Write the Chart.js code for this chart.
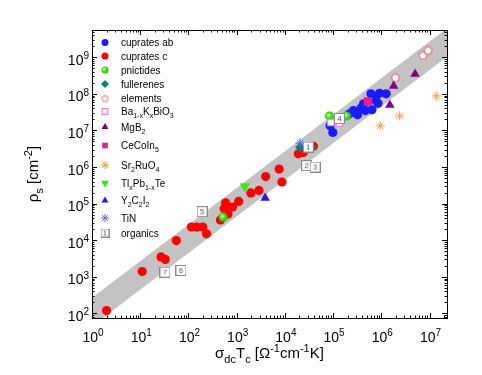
<!DOCTYPE html>
<html>
<head>
<meta charset="utf-8">
<script src="https://cdn.jsdelivr.net/npm/chart.js@4"></script>
<style>
    html, body { margin: 0; padding: 0; background: #fff; }
</style>
</head>
<body>
<canvas id="chart" width="482" height="375"></canvas>
<script>
// ========== DATA ==========
const xMin = 1, xMax = 2.3e7;
const yMin = 75, yMax = 5.56e9;

const cupratesAbX = [86600, 98600, 218000, 264000, 320000, 377000, 427000, 463000, 638000, 608000, 757000, 918000, 1260000, 850000, 689000];
const cupratesAbY = [1.34e7, 8.8e6, 2.84e7, 3.5e7, 2.67e7, 4.06e7, 5.33e7, 3.5e7, 3.66e7, 1.0e8, 8.4e7, 1.04e8, 1.0e8, 5.57e7, 7.2e7];

const cupratesCX = [2.0, 11, 27, 33, 56, 115, 150, 198, 237, 460, 660, 550, 590, 820, 1100, 1970, 2900, 4000, 7600, 8700, 19000, 24000, 39000];
const cupratesCY = [120, 1400, 3500, 3000, 9800, 23000, 23000, 23000, 15000, 36000, 52000, 73000, 105000, 81000, 115000, 196000, 230000, 550000, 880000, 390000, 2.3e6, 2.5e6, 3.7e6];

const pnictidesX = [520, 84000, 190000];
const pnictidesY = [43000, 2.5e7, 2.5e7];

const fullerenesX = [20600, 36000];
const fullerenesY = [3.5e6, 3.5e6];

const elementsX = [1.95e6, 7.3e6, 9.3e6];
const elementsY = [2.85e8, 1.16e9, 1.58e9];

const bkboX = [90000, 135000];
const bkboY = [1.65e7, 1.6e7];

const mgb2X = [1.5e6, 1.8e6, 5.0e6];
const mgb2Y = [5.0e7, 1.65e8, 3.5e8];

const cecoin5X = [5.3e5];
const cecoin5Y = [6.2e7];

const sr2ruo4X = [9.5e5, 2.4e6, 1.38e7];
const sr2ruo4Y = [1.34e7, 2.5e7, 8.8e7];

const tlpbteX = [1480];
const tlpbteY = [3.0e5];

const y2c2i2X = [3900];
const y2c2i2Y = [1.43e5];

const tinX = [20600];
const tinY = [4.5e6];

const organicsX = [30600, 28400, 42300, 135000, 192, 70, 32.6];
const organicsY = [3.52e6, 1.09e6, 1.0e6, 2.12e7, 60500, 1490, 1340];
const organicsLabels = ['1', '2', '3', '4', '5', '6', '7'];

// grey band (rho_s = C * sigma*Tc, C between ~45 and ~270)
const bandX = [0.3, 1e8];
const bandLow = [13.4, 4.47e9];
const bandHigh = [81, 2.7e10];

const legendLabels = ['cuprates ab', 'cuprates c', 'pnictides', 'fullerenes', 'elements',
    'Ba_{1-x}K_{x}BiO_{3}', 'MgB_{2}', 'CeCoIn_{5}', 'Sr_{2}RuO_{4}', 'Tl_{x}Pb_{1-x}Te',
    'Y_{2}C_{2}I_{2}', 'TiN', 'organics'];

const xTitle = 'σ_{dc}T_{c} [Ω^{-1}cm^{-1}K]';
const yTitle = 'ρ_{s} [cm^{-2}]';

const FONT = '"Liberation Sans", Arial, sans-serif';

// ========== HELPERS ==========
function zip(xs, ys) {
    return xs.map((x, i) => ({ x: x, y: ys[i] }));
}

function makeCanvas(w, h, draw) {
    const c = document.createElement('canvas');
    c.width = w; c.height = h;
    draw(c.getContext('2d'), w, h);
    return c;
}

function pentagon(size, stroke) {
    return makeCanvas(size, size, (ctx, w, h) => {
        const r = size / 2 - 1.2;
        ctx.beginPath();
        for (let i = 0; i < 5; i++) {
            const a = -Math.PI / 2 + i * 2 * Math.PI / 5;
            const px = w / 2 + r * Math.cos(a), py = h / 2 + 0.5 + r * Math.sin(a);
            i ? ctx.lineTo(px, py) : ctx.moveTo(px, py);
        }
        ctx.closePath();
        ctx.fillStyle = '#fff';
        ctx.fill();
        ctx.strokeStyle = stroke;
        ctx.lineWidth = 1.2;
        ctx.stroke();
    });
}

function ball(size) {
    return makeCanvas(size, size, (ctx, w, h) => {
        const g = ctx.createRadialGradient(w / 2 - 1, h / 2 - 1, 0.5, w / 2, h / 2, size / 2);
        g.addColorStop(0, '#c8ff9a');
        g.addColorStop(0.45, '#44e010');
        g.addColorStop(1, '#22b800');
        ctx.beginPath();
        ctx.arc(w / 2, h / 2, size / 2 - 0.5, 0, Math.PI * 2);
        ctx.fillStyle = g;
        ctx.fill();
    });
}

function numberBox(label, size) {
    return makeCanvas(size, size, (ctx, w, h) => {
        ctx.fillStyle = '#fff';
        ctx.fillRect(0.5, 0.5, w - 1, h - 1);
        ctx.strokeStyle = '#8a8a8a';
        ctx.lineWidth = 1;
        ctx.strokeRect(0.5, 0.5, w - 1, h - 1);
        ctx.fillStyle = '#555';
        ctx.font = '8px ' + FONT;
        ctx.textAlign = 'center';
        ctx.textBaseline = 'middle';
        ctx.fillText(label, w / 2, h / 2 + 0.5);
    });
}

function parseRich(s) {
    const parts = [];
    const re = /([_^])\{([^}]*)\}/g;
    let last = 0, m;
    while ((m = re.exec(s))) {
        if (m.index > last) parts.push({ t: s.slice(last, m.index), k: '' });
        parts.push({ t: m[2], k: m[1] });
        last = re.lastIndex;
    }
    if (last < s.length) parts.push({ t: s.slice(last), k: '' });
    return parts;
}

// draws text with _{sub} and ^{sup}, y = baseline
function drawRich(ctx, s, x, y, size, align) {
    const parts = parseRich(s);
    const small = Math.round(size * 0.7);
    let w = 0;
    parts.forEach(p => {
        ctx.font = (p.k ? small : size) + 'px ' + FONT;
        p.w = ctx.measureText(p.t).width;
        w += p.w;
    });
    let cx = align === 'center' ? x - w / 2 : (align === 'right' ? x - w : x);
    ctx.textAlign = 'left';
    ctx.textBaseline = 'alphabetic';
    parts.forEach(p => {
        ctx.font = (p.k ? small : size) + 'px ' + FONT;
        const dy = p.k === '_' ? size * 0.3 : (p.k === '^' ? -size * 0.42 : 0);
        ctx.fillText(p.t, cx, y + dy);
        cx += p.w;
    });
    return w;
}

// ========== AXES + LEGEND PLUGIN ==========
const legendRowY = [42.5, 56, 70, 84, 98, 111.5, 127, 145.5, 165, 183, 200.5, 218, 233];

const frameAxes = {
    id: 'frameAxes',
    afterDraw(chart) {
        const { ctx, chartArea: a, scales: { x, y } } = chart;
        ctx.save();
        ctx.strokeStyle = '#000';
        ctx.fillStyle = '#000';
        ctx.lineWidth = 1;
        ctx.strokeRect(Math.round(a.left) + 0.5, Math.round(a.top) + 0.5,
            Math.round(a.right - a.left), Math.round(a.bottom - a.top));

        // x ticks (bottom and top, inward)
        ctx.beginPath();
        for (let e = 0; e <= 8; e++) {
            for (let m = 1; m <= 9; m++) {
                const v = m * Math.pow(10, e);
                if (v < xMin || v > xMax) continue;
                const px = Math.round(x.getPixelForValue(v)) + 0.5;
                const len = m === 1 ? 5 : 2.5;
                ctx.moveTo(px, a.bottom); ctx.lineTo(px, a.bottom - len);
                ctx.moveTo(px, a.top); ctx.lineTo(px, a.top + len);
            }
        }
        // y ticks (left and right, inward)
        for (let e = 1; e <= 10; e++) {
            for (let m = 1; m <= 9; m++) {
                const v = m * Math.pow(10, e);
                if (v < yMin || v > yMax) continue;
                const py = Math.round(y.getPixelForValue(v)) + 0.5;
                const len = m === 1 ? 5 : 2.5;
                ctx.moveTo(a.left, py); ctx.lineTo(a.left + len, py);
                ctx.moveTo(a.right, py); ctx.lineTo(a.right - len, py);
            }
        }
        ctx.stroke();

        // tick labels
        for (let e = 0; e <= 8; e++) {
            const v = Math.pow(10, e);
            if (v < xMin || v > xMax) continue;
            drawRich(ctx, '10^{' + e + '}', x.getPixelForValue(v) + 1, 342, 14, 'center');
        }
        for (let e = 1; e <= 10; e++) {
            const v = Math.pow(10, e);
            if (v < yMin || v > yMax) continue;
            drawRich(ctx, '10^{' + e + '}', a.left - 3, y.getPixelForValue(v) + 7.6, 14, 'right');
        }

        // axis titles
        drawRich(ctx, xTitle, (a.left + a.right) / 2, 358, 15, 'center');
        ctx.save();
        ctx.translate(38, (a.top + a.bottom) / 2);
        ctx.rotate(-Math.PI / 2);
        drawRich(ctx, yTitle, 0, 0, 15, 'center');
        ctx.restore();

        // legend
        chart.data.datasets.forEach(ds => {
            if (ds.legendIndex === undefined) return;
            const ly = legendRowY[ds.legendIndex];
            const style = ds.legendStyle || ds.pointStyle;
            ctx.save();
            ctx.fillStyle = ds.backgroundColor;
            ctx.strokeStyle = ds.borderColor;
            ctx.lineWidth = ds.borderWidth;
            Chart.helpers.drawPoint(ctx, {
                pointStyle: Array.isArray(style) ? style[0] : style,
                radius: ds.legendRadius,
                rotation: ds.rotation || 0,
                borderWidth: ds.borderWidth
            }, 105, ly);
            ctx.restore();
            ctx.fillStyle = '#000';
            drawRich(ctx, legendLabels[ds.legendIndex], 121, ly + 3.6, 10, 'left');
        });
        ctx.restore();
    }
};

// ========== DATASETS ==========
function series(idx, xs, ys, opts) {
    return Object.assign({
        data: zip(xs, ys),
        legendIndex: idx,
        order: 13 - idx,
        borderWidth: 0,
        pointHoverRadius: 5
    }, opts);
}

const datasets = [
    series(0, cupratesAbX, cupratesAbY, { pointStyle: 'circle', pointRadius: 4.6, backgroundColor: '#1a1aff', borderColor: '#1a1aff', legendRadius: 3.5 }),
    series(1, cupratesCX, cupratesCY, { pointStyle: 'circle', pointRadius: 4.6, backgroundColor: '#ff0000', borderColor: '#ff0000', legendRadius: 3.5 }),
    series(2, pnictidesX, pnictidesY, { pointStyle: ball(10), legendStyle: ball(8), pointRadius: 5, backgroundColor: '#33dd00', borderColor: '#33dd00', legendRadius: 4 }),
    series(3, fullerenesX, fullerenesY, { pointStyle: 'rectRot', pointRadius: 5, backgroundColor: '#0a7f7f', borderColor: '#0a7f7f', legendRadius: 4 }),
    series(4, elementsX, elementsY, { pointStyle: pentagon(11, '#f07070'), legendStyle: pentagon(9, '#f49090'), pointRadius: 5.5, backgroundColor: '#fff', borderColor: '#f07070', legendRadius: 4 }),
    series(5, bkboX, bkboY, { pointStyle: 'rect', pointRadius: 4.6, backgroundColor: '#fff', borderColor: '#ee80ee', borderWidth: 1.2, legendRadius: 4 }),
    series(6, mgb2X, mgb2Y, { pointStyle: 'triangle', pointRadius: 5.5, backgroundColor: '#800080', borderColor: '#800080', legendRadius: 4 }),
    series(7, cecoin5X, cecoin5Y, { pointStyle: 'rect', pointRadius: 6, backgroundColor: '#ee1a8a', borderColor: '#ee1a8a', legendRadius: 4 }),
    series(8, sr2ruo4X, sr2ruo4Y, { pointStyle: 'star', pointRadius: 4.6, backgroundColor: '#ff9933', borderColor: '#ff9933', borderWidth: 1, legendRadius: 4 }),
    series(9, tlpbteX, tlpbteY, { pointStyle: 'triangle', rotation: 180, pointRadius: 6, backgroundColor: '#33ee00', borderColor: '#33ee00', legendRadius: 4.5 }),
    series(10, y2c2i2X, y2c2i2Y, { pointStyle: 'triangle', pointRadius: 5.5, backgroundColor: '#1a1aff', borderColor: '#1a1aff', legendRadius: 4 }),
    series(11, tinX, tinY, { pointStyle: 'star', pointRadius: 4.6, backgroundColor: '#6060ff', borderColor: '#6060ff', borderWidth: 1, legendRadius: 4 }),
    series(12, organicsX, organicsY, { pointStyle: organicsLabels.map(l => numberBox(l, 11)), legendStyle: numberBox('1', 9), pointRadius: 5.5, backgroundColor: '#fff', borderColor: '#8a8a8a', legendRadius: 4.5 }),
    {
        data: zip(bandX, bandLow),
        showLine: true, pointRadius: 0, borderWidth: 0, fill: false,
        borderColor: 'rgba(0,0,0,0)', order: 30
    },
    {
        data: zip(bandX, bandHigh),
        showLine: true, pointRadius: 0, borderWidth: 0, fill: 13,
        borderColor: 'rgba(0,0,0,0)', backgroundColor: '#c3c3c3', order: 30
    }
];

new Chart(document.getElementById('chart'), {
    type: 'scatter',
    data: { datasets: datasets },
    options: {
        responsive: false,
        animation: false,
        devicePixelRatio: 1,
        layout: { padding: { left: 92, right: 35, top: 30, bottom: 57 } },
        plugins: { legend: { display: false }, tooltip: { enabled: false } },
        scales: {
            x: { type: 'logarithmic', min: xMin, max: xMax, display: false },
            y: { type: 'logarithmic', min: yMin, max: yMax, display: false }
        }
    },
    plugins: [frameAxes]
});
</script>
</body>
</html>
